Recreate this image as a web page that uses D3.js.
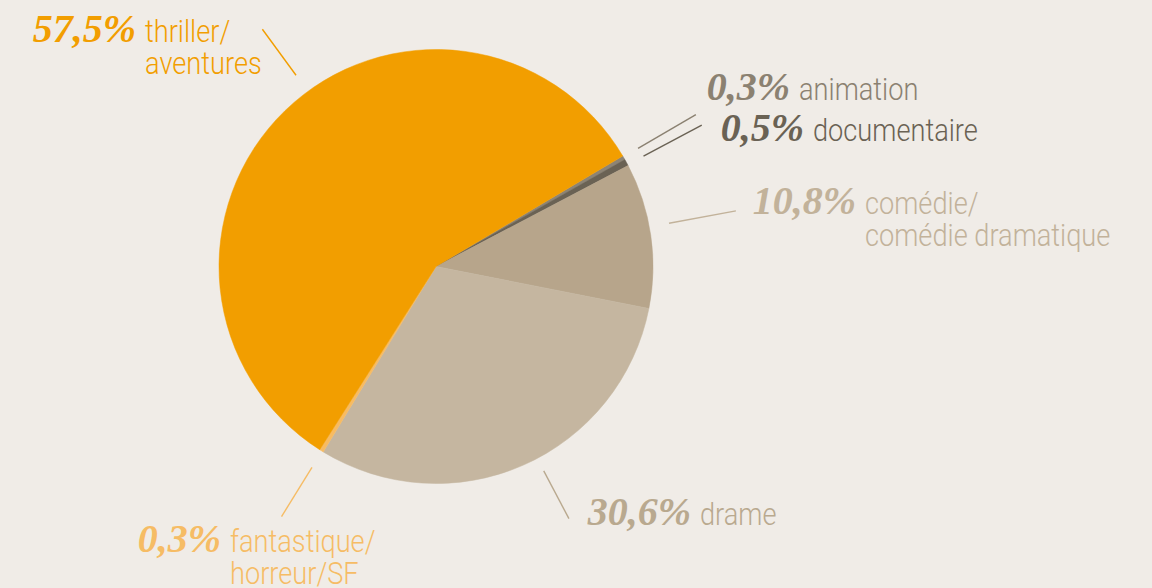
<!DOCTYPE html>
<html>
  <head>
    <meta charset="utf-8">
    <script src="https://cdn.jsdelivr.net/npm/d3@7"></script>
    <style>
      body { margin: 0; background: #f0ece7; }
      .pct { font-family: 'Liberation Serif', serif; font-style: italic; font-weight: bold; }
      .lbl { font-family: Roboto, 'Liberation Sans', sans-serif; font-weight: 300; }
    </style>
  </head>
  <body>
    <svg width="1152" height="588" id="mainsvg"></svg>
    <script>
        // data, clockwise from the animation slice
        const genres = ['animation', 'documentaire', 'comédie', 'drame', 'fantastique', 'thriller'];
        const shares = [0.3, 0.5, 10.8, 30.6, 0.3, 57.5];
        const pctLabels = ['0,3%', '0,5%', '10,8%', '30,6%', '0,3%', '57,5%'];
        const nameLines = [['animation'], ['documentaire'], ['comédie/', 'comédie dramatique'],
                           ['drame'], ['fantastique/', 'horreur/SF'], ['thriller/', 'aventures']];
        const sliceColors = ['#8d8475', '#6a6254', '#b7a58b', '#c5b6a0', '#f7bb62', '#f29e00'];
        const textColors = ['#8b8171', '#6a6254', '#c2b29a', '#b9a98f', '#f6bc65', '#f29e00'];

        // layout
        const svg = d3.select('#mainsvg');
        const width = +svg.attr('width');
        const height = +svg.attr('height');
        const cx = 436, cy = 266.5, radius = 217;
        const startAngle = 59.4 * Math.PI / 180;

        // label placement: leader line (angle in degrees, inner/outer radius), text anchor point
        const leaders = [
            {a: 59.7, r1: 234, r2: 301},
            {a: 62.0, r1: 235, r2: 301},
            {a: 79.5, r1: 237, r2: 305},
            {a: 152.2, r1: 231, r2: 285},
            {a: 211.7, r1: 236, r2: 294},
            {a: -36.2, r1: 237, r2: 294}
        ];
        const textPos = [
            {x: 790, y: 100}, {x: 804, y: 141}, {x: 856, y: 214},
            {x: 691, y: 525}, {x: 221, y: 552}, {x: 136, y: 42}
        ];

        svg.append('rect').attr('width', width).attr('height', height).attr('fill', '#f0ece7');

        const pie = d3.pie().sort(null).value(d => d)
            .startAngle(startAngle).endAngle(startAngle + 2 * Math.PI);
        const arc = d3.arc().innerRadius(0).outerRadius(radius);
        const arcs = pie(shares);

        const g = svg.append('g').attr('transform', `translate(${cx}, ${cy})`);
        g.selectAll('path').data(arcs).enter().append('path')
            .attr('d', arc)
            .attr('fill', (d, i) => sliceColors[i])
            .attr('stroke', (d, i) => sliceColors[i])
            .attr('stroke-width', 0.5);

        // leader lines
        const pt = (deg, r) => [Math.sin(deg * Math.PI / 180) * r, -Math.cos(deg * Math.PI / 180) * r];
        g.selectAll('.leader').data(leaders).enter().append('line')
            .attr('class', 'leader')
            .attr('x1', d => pt(d.a, d.r1)[0]).attr('y1', d => pt(d.a, d.r1)[1])
            .attr('x2', d => pt(d.a, d.r2)[0]).attr('y2', d => pt(d.a, d.r2)[1])
            .attr('stroke', (d, i) => textColors[i])
            .attr('stroke-width', 1.4);

        // labels: percentage right-aligned, name to the right (condensed)
        const labels = svg.selectAll('.label').data(genres).enter().append('g')
            .attr('class', 'label')
            .attr('transform', (d, i) => `translate(${textPos[i].x}, ${textPos[i].y})`);
        labels.append('text')
            .attr('class', 'pct')
            .attr('text-anchor', 'end')
            .attr('font-size', 40)
            .attr('fill', (d, i) => textColors[i])
            .text((d, i) => pctLabels[i]);
        labels.each(function(d, i) {
            const t = d3.select(this).append('text')
                .attr('class', 'lbl')
                .attr('transform', 'translate(9, 0) scale(0.85, 1)')
                .attr('font-size', 32)
                .attr('fill', textColors[i]);
            nameLines[i].forEach((line, k) => {
                t.append('tspan').attr('x', 0).attr('y', k * 32).text(line);
            });
        });
    </script>
  </body>
</html>
